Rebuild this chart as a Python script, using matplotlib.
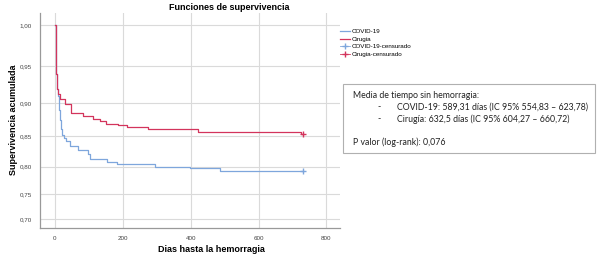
import matplotlib
matplotlib.use("Agg")
import matplotlib.pyplot as plt
import numpy as np
from matplotlib.lines import Line2D
from matplotlib.patches import Rectangle
from matplotlib.ticker import FuncFormatter

# Kaplan-Meier steps
covid_days = [0, 2, 4, 6, 8, 12, 15, 18, 22, 26, 32, 44, 68, 98, 103, 152, 182, 294, 397, 486, 731]
covid_surv = [1.0, 0.97, 0.94, 0.92, 0.91, 0.89, 0.875, 0.862, 0.853, 0.847, 0.843, 0.834, 0.828,
              0.821, 0.813, 0.809, 0.805, 0.800, 0.797, 0.793, 0.793]
cir_days = [0, 2, 4, 6, 8, 15, 30, 46, 83, 112, 132, 150, 186, 212, 275, 422, 724, 731]
cir_surv = [1.0, 0.97, 0.94, 0.92, 0.912, 0.905, 0.898, 0.885, 0.881, 0.877, 0.873, 0.869, 0.867,
            0.865, 0.861, 0.857, 0.854, 0.854]
censor_day = 731

x_ticks = [0, 200, 400, 600, 800]
y_ticks = [0.70, 0.75, 0.80, 0.85, 0.90, 0.95, 1.00]

legend_labels = ["COVID-19", "Cirugia", "COVID-19-censurado", "Cirugia-censurado"]
box_lines = [
    "Media de tiempo sin hemorragia:",
    "COVID-19: 589,31 días (IC 95% 554,83 \u2013 623,78)",
    "Cirugía: 632,5 días (IC 95% 604,27 \u2013 660,72)",
    "P valor (log-rank): 0,076",
]

BLUE = "#7ea6dc"
RED = "#d3345c"

plt.rcParams["font.family"] = ["Liberation Sans", "DejaVu Sans"]

fig = plt.figure(figsize=(6.0, 2.62), dpi=100)
ax = fig.add_axes([40 / 600, 1 - 228 / 262, 300 / 600, 215 / 262])

ax.step(covid_days, covid_surv, where="post", color=BLUE, lw=0.9)
ax.step(cir_days, cir_surv, where="post", color=RED, lw=0.9)
ax.plot([censor_day], [covid_surv[-1]], "+", color=BLUE, ms=4, mew=1.0)
ax.plot([censor_day], [cir_surv[-1]], "+", color=RED, ms=4, mew=1.0)

# the reference y axis is stretched towards the top
ax.set_yscale("function", functions=(lambda v: np.exp(2 * v), lambda e: np.log(np.clip(e, 1e-9, None)) / 2))
ax.set_ylim(0.6805, 1.0138)
ax.set_xlim(-44, 840)
ax.set_xticks(x_ticks)
ax.set_yticks(y_ticks)
ax.yaxis.set_minor_locator(matplotlib.ticker.NullLocator())
ax.yaxis.set_major_formatter(FuncFormatter(lambda v, _: f"{v:.2f}".replace(".", ",")))
ax.tick_params(length=0, labelsize=4.5, labelcolor="#444444", pad=6)

ax.grid(True, color="#dadada", lw=0.8)
ax.set_axisbelow(True)
for side in ("top", "right"):
    ax.spines[side].set_visible(False)
for side in ("left", "bottom"):
    ax.spines[side].set_color("#999999")
    ax.spines[side].set_linewidth(0.9)

label_font = dict(fontsize=6.5, fontweight="bold", ha="center", va="center")
fig.text(14 / 600, 1 - 120 / 262, "Supervivencia acumulada", rotation=90, **label_font)
fig.text(211 / 600, 1 - 250 / 262, "Dias hasta la hemorragia", **label_font)
fig.text(229 / 600, 1 - 7 / 262, "Funciones de supervivencia", **label_font)

handles = [
    Line2D([], [], color=BLUE, lw=0.9),
    Line2D([], [], color=RED, lw=0.9),
    Line2D([], [], color=BLUE, lw=0.6, marker="+", ms=5),
    Line2D([], [], color=RED, lw=0.6, marker="+", ms=5),
]
fig.legend(handles, legend_labels, loc="upper left", bbox_to_anchor=(340 / 600, 1 - 29 / 262),
           frameon=False, fontsize=4.5, handlelength=1.6, handletextpad=0.3, labelspacing=0.35,
           borderaxespad=0, borderpad=0)

fig.patches.append(Rectangle((343 / 600, 1 - 153 / 262), 252 / 600, 69 / 262, transform=fig.transFigure,
                             fill=True, facecolor="white", edgecolor="#b0b0b0", lw=0.8, zorder=5))
box_font = dict(fontsize=6.3, family=["Lato", "DejaVu Sans"], color="#222222", va="center", zorder=6)
fig.text(353 / 600, 1 - 95 / 262, box_lines[0], **box_font)
for row, line in zip([107, 119], box_lines[1:3]):
    fig.text(377 / 600, 1 - row / 262, "-", **box_font)
    fig.text(397 / 600, 1 - row / 262, line, **box_font)
fig.text(353 / 600, 1 - 142 / 262, box_lines[3], **box_font)

fig.savefig("out.png", dpi=100)
